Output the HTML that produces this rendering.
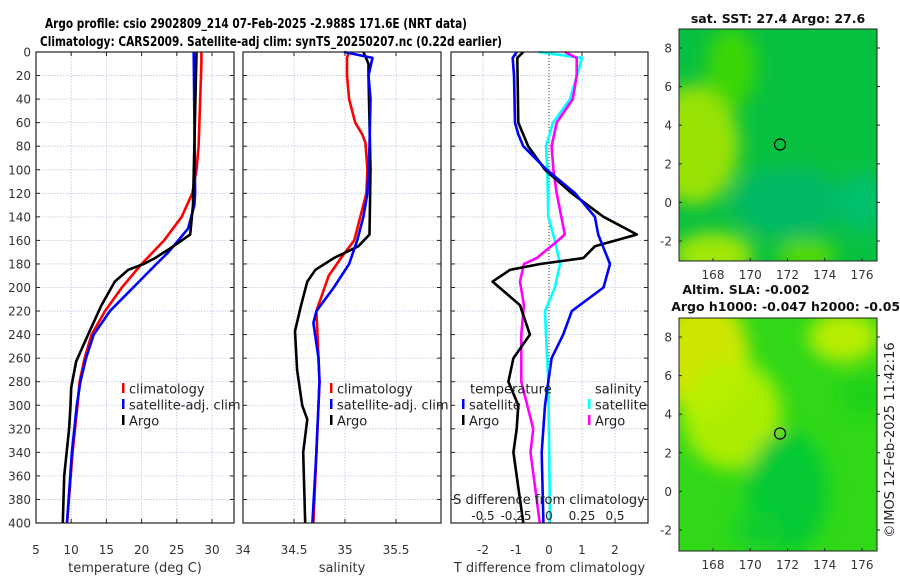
<!DOCTYPE html>
<html><head><meta charset="utf-8"><style>
body{margin:0;background:#fff}
svg{display:block;font-family:"DejaVu Sans","Liberation Sans",sans-serif}
</style></head><body>
<svg id="fig" width="900" height="580" viewBox="0 0 900 580" xmlns="http://www.w3.org/2000/svg">
<defs>
<filter id="blur6" x="-50%" y="-50%" width="200%" height="200%"><feGaussianBlur stdDeviation="9"/></filter>
<clipPath id="clipMap1"><rect x="679" y="29" width="198" height="232"/></clipPath>
<clipPath id="clipMap2"><rect x="679" y="318" width="198" height="233"/></clipPath>
</defs>
<text x="256" y="28" text-anchor="middle" font-size="13" font-weight="bold" textLength="422" lengthAdjust="spacingAndGlyphs">Argo profile: csio 2902809_214 07-Feb-2025 -2.988S 171.6E (NRT data)</text>
<text x="271" y="46" text-anchor="middle" font-size="13" font-weight="bold" textLength="462" lengthAdjust="spacingAndGlyphs">Climatology: CARS2009. Satellite-adj clim: synTS_20250207.nc (0.22d earlier)</text>
<g id="panels"></g>
<g id="maps"></g>
<text transform="translate(894,440) rotate(-90)" text-anchor="middle" font-size="13" fill="#222">©IMOS 12-Feb-2025 11:42:16</text>
</svg>
<script>
// ---- data ----
const depthTicks = [0,20,40,60,80,100,120,140,160,180,200,220,240,260,280,300,320,340,360,380,400];
const tempTicks = [5,10,15,20,25,30];
const salTicks = [34,34.5,35,35.5];
const tdTicks = [-2,-1,0,1,2];
const sdTicks = [-0.5,-0.25,0,0.25,0.5];
const sdTickLabels = ["-0.5","-0.25","0","0.25","0.5"];

const tClimD = [0,10,80,100,120,140,160,180,200,220,240,260,280,300,340,400];
const tClimV = [28.5,28.5,28.1,27.8,27.2,25.7,23.2,20.0,17.2,14.8,12.9,11.9,11.2,10.9,10.2,9.4];
const tSatD = [0,120,130,150,160,170,180,200,220,240,260,280,300,340,400];
const tSatV = [27.4,27.6,27.5,26.6,25.2,23.8,22.1,18.8,15.5,13.2,12.1,11.3,10.8,10.1,9.4];
const tArgoD = [0,130,155,165,175,180,185,195,215,240,263,285,300,320,360,400];
const tArgoV = [27.8,27.3,26.9,24.5,21.9,20.3,18.1,16.2,14.3,12.4,10.7,10.0,9.9,9.7,9.0,8.8];

const sClimD = [0,5,20,40,60,70,77,100,120,140,160,175,190,210,220,240,280,340,400];
const sClimV = [35.04,35.02,35.02,35.04,35.10,35.17,35.2,35.22,35.21,35.15,35.09,34.96,34.84,34.76,34.72,34.73,34.75,34.72,34.69];
const sSatD = [0,5,20,40,80,120,140,160,180,200,220,230,260,280,340,400];
const sSatV = [34.99,35.27,35.23,35.25,35.24,35.22,35.18,35.12,35.04,34.89,34.72,34.69,34.74,34.75,34.72,34.68];
const sArgoD = [0,10,20,100,155,165,175,185,195,215,237,270,300,312,340,400];
const sArgoV = [35.18,35.23,35.23,35.25,35.24,35.13,34.89,34.71,34.63,34.57,34.51,34.53,34.58,34.63,34.59,34.61];

const dtSatD = [0,5,20,60,70,80,100,120,140,155,180,200,220,240,260,280,300,340,400];
const dtSatV = [-0.98,-1.1,-1.06,-1.03,-0.93,-0.78,-0.07,0.79,1.39,1.49,1.85,1.65,0.69,0.43,0.08,-0.02,-0.12,-0.22,-0.17];
const dtArgoD = [0,5,60,80,100,120,140,155,165,175,180,185,195,215,240,260,280,300,320,340,400];
const dtArgoV = [-0.78,-0.96,-0.93,-0.63,-0.12,0.69,1.65,2.66,1.39,1.04,-0.27,-1.18,-1.71,-0.88,-0.58,-1.08,-1.23,-0.93,-0.98,-1.08,-0.78];
const dsSatD = [0,5,40,60,80,100,140,160,180,200,220,240,280,400];
const dsSatV = [-0.08,0.25,0.16,0.03,-0.023,-0.013,-0.005,0.045,0.083,0.045,-0.03,-0.023,-0.005,0.008];
const dsArgoD = [0,5,20,40,60,80,100,120,155,160,175,180,195,215,240,280,320,340,400];
const dsArgoV = [0.12,0.21,0.21,0.18,0.058,0.02,0.033,0.058,0.12,0.07,-0.093,-0.19,-0.22,-0.19,-0.21,-0.21,-0.12,-0.14,-0.07];

// ---- helpers ----
const NS="http://www.w3.org/2000/svg";
const gP=document.getElementById('panels');
function mk(tag,attrs,parent,text){const e=document.createElementNS(NS,tag);for(const k in attrs)e.setAttribute(k,attrs[k]);if(text!==undefined)e.textContent=text;(parent||gP).appendChild(e);return e;}
const Y0=52,Y1=523;
const yD=d=>Y0+(d/400)*(Y1-Y0);
function lin(d0,d1,r0,r1){return v=>r0+(v-d0)/(d1-d0)*(r1-r0);}

const panels=[
 {name:'temperature-panel',x0:36,x1:234,sx:lin(5,30,36,212),ticks:tempTicks,labels:tempTicks.map(String),xlabel:'temperature (deg C)'},
 {name:'salinity-panel',x0:243,x1:441,sx:lin(34,35,243,345),ticks:salTicks,labels:["34","34.5","35","35.5"],xlabel:'salinity'},
 {name:'difference-panel',x0:451,x1:648,sx:lin(0,1,549,582),ticks:tdTicks,labels:tdTicks.map(String),xlabel:'T difference from climatology'}
];
panels.forEach((p,i)=>{
 const g=mk('g',{});
 
 
 // grid
 depthTicks.forEach(d=>{const l=mk('line',{x1:p.x0,x2:p.x1,y1:yD(d),y2:yD(d),stroke:'#b8c4e0','stroke-width':0.8,'stroke-dasharray':'1.5,1.5'},g);
   
   mk('line',{x1:p.x0,x2:p.x0+4,y1:yD(d),y2:yD(d),stroke:'#222'},g);mk('line',{x1:p.x1-4,x2:p.x1,y1:yD(d),y2:yD(d),stroke:'#222'},g);});
 const gx = i===2? sdTicks.map(s=>p.sx(s*4)) : p.ticks.map(p.sx);
 gx.forEach(x=>{if(x>p.x0+1&&x<p.x1-1){const l=mk('line',{x1:x,x2:x,y1:Y0,y2:Y1,stroke:'#b8c4e0','stroke-width':0.8,'stroke-dasharray':'1.5,1.5'},g);
   }});
 p.ticks.forEach((t,k)=>{const x=p.sx(t);
   mk('line',{x1:x,x2:x,y1:Y1,y2:Y1-4,stroke:'#222'},g);mk('line',{x1:x,x2:x,y1:Y0,y2:Y0+4,stroke:'#222'},g);
   const tl=mk('text',{x:x,y:554,'text-anchor':'middle','font-size':12,fill:'#333'},g,p.labels[k]);
   });
 const xl=mk('text',{x:(p.x0+p.x1)/2,y:572,'text-anchor':'middle','font-size':13,fill:'#333'},g,p.xlabel);
 
 if(i===0){depthTicks.forEach(d=>{const t=mk('text',{x:31,y:yD(d)+4.5,'text-anchor':'end','font-size':12,fill:'#333'},g,String(d));
   });}
 p.g=g;
});
// box frames (after grids)
function frame(p){const r=mk('rect',{x:p.x0,y:Y0,width:p.x1-p.x0,height:Y1-Y0,fill:'none',stroke:'#222','stroke-width':1.2},p.g);}
// zero line on diff panel
const zl=mk('line',{x1:panels[2].sx(0),x2:panels[2].sx(0),y1:Y0,y2:Y1,stroke:'#333','stroke-width':1,'stroke-dasharray':'1,2'},panels[2].g);


function series(p,D,V,color,name,scale){
 const pts=D.map((d,k)=>p.sx(V[k]*(scale||1)).toFixed(1)+','+yD(d).toFixed(1)).join(' ');
 const pl=mk('polyline',{points:pts,fill:'none',stroke:color,'stroke-width':2.6,'stroke-linejoin':'round'},p.g);
 
 
}
series(panels[0],tClimD,tClimV,'#f00','temp-climatology-line');
series(panels[0],tSatD,tSatV,'#00f','temp-satellite-line');
series(panels[0],tArgoD,tArgoV,'#000','temp-argo-line');
series(panels[1],sClimD,sClimV,'#f00','sal-climatology-line');
series(panels[1],sArgoD,sArgoV,'#000','sal-argo-line');
series(panels[1],sSatD,sSatV,'#00f','sal-satellite-line');
series(panels[2],dsSatD,dsSatV,'#0ff','sdiff-satellite-line',4);
series(panels[2],dsArgoD,dsArgoV,'#f0f','sdiff-argo-line',4);
series(panels[2],dtArgoD,dtArgoV,'#000','tdiff-argo-line');
series(panels[2],dtSatD,dtSatV,'#00f','tdiff-satellite-line');
panels.forEach(frame);

// S diff axis labels in panel 3
{const g=panels[2].g;
 const t=mk('text',{x:549,y:504,'text-anchor':'middle','font-size':13,fill:'#222'},g,'S difference from climatology');
 
 sdTicks.forEach((s,k)=>{const tl=mk('text',{x:panels[2].sx(s*4),y:520,'text-anchor':'middle','font-size':12,fill:'#222'},g,sdTickLabels[k]);
  });}

// legends
function legend(g,x,y,color,label,name){
 const e=mk('g',{},g);
 mk('rect',{x:x,y:y-6,width:2.5,height:10,fill:color},e);
 mk('text',{x:x+7,y:y+4.5,'font-size':13,fill:'#222'},e,label);
}
[[0,122],[1,330]].forEach(([i,x])=>{
 legend(panels[i].g,x,389,'#f00','climatology','legend-climatology');
 legend(panels[i].g,x,405,'#00f','satellite-adj. clim','legend-satellite-adj');
 legend(panels[i].g,x,421,'#000','Argo','legend-argo');
});
{const g=panels[2].g;
 const h1=mk('text',{x:470,y:393.5,'font-size':13,fill:'#222'},g,'temperature');
 legend(g,462,405,'#00f','satellite','legend-temp-satellite');
 legend(g,462,421,'#000','Argo','legend-temp-argo');
 const h2=mk('text',{x:595,y:393.5,'font-size':13,fill:'#222'},g,'salinity');
 legend(g,588,405,'#0ff','satellite','legend-sal-satellite');
 legend(g,588,421,'#f0f','Argo','legend-sal-argo');
}

// ---- maps ----
const lonTicks=[168,170,172,174,176];
const latTicks=[-2,0,2,4,6,8];
const argoLon=171.6, argoLat=3.0;
const mapBlobs1=[[167,3,45,60,'#a8e600'],[168,-2.7,40,22,'#b4ec00'],[173,-2.7,30,15,'#60dc00'],[172,0,55,35,'#00b868'],[176,0,25,30,'#00c070'],[169,7,25,40,'#40d800']];
const mapBlobs2=[[167.5,7,45,60,'#e0e800'],[175,8,35,25,'#c8f000'],[169,4,50,55,'#b8f000'],[172,0,40,60,'#00c838'],[176,5,20,20,'#18d018'],[170.5,-2,25,20,'#10cc30']];
const gM=document.getElementById('maps');
function drawMap(y0,y1,title,titleY,clip,blobs,base,name){
 const g=mk('g',{},gM);
 const x0=679,x1=877;
 const sx=lin(168,176,713,862), sy=lin(8,-2,y0+19,y0+19+193);
 const c=mk('g',{'clip-path':'url(#'+clip+')'},g);
 mk('rect',{x:x0,y:y0,width:x1-x0,height:y1-y0,fill:base},c);
 const bg=mk('g',{filter:'url(#blur6)'},c);
 blobs.forEach(b=>mk('ellipse',{cx:sx(b[0]),cy:sy(b[1]),rx:b[2],ry:b[3],fill:b[4],opacity:0.9},bg));
 const circ=mk('circle',{cx:sx(argoLon),cy:sy(argoLat),r:5.5,fill:'none',stroke:'#000','stroke-width':1.2},g);
 
 mk('rect',{x:x0,y:y0,width:x1-x0,height:y1-y0,fill:'none',stroke:'#222','stroke-width':1},g);
 lonTicks.forEach(l=>{mk('line',{x1:sx(l),x2:sx(l),y1:y1,y2:y1-3,stroke:'#222'},g);
  const t=mk('text',{x:sx(l),y:y1+18,'text-anchor':'middle','font-size':12,fill:'#333'},g,String(l));});
 latTicks.forEach(l=>{mk('line',{x1:x0,x2:x0+3,y1:sy(l),y2:sy(l),stroke:'#222'},g);mk('line',{x1:x1,x2:x1+3,y1:sy(l),y2:sy(l),stroke:'#222'},g);
  const t=mk('text',{x:x0-7,y:sy(l)+4.5,'text-anchor':'end','font-size':12,fill:'#333'},g,String(l));});
 title.forEach((tt,k)=>{const t=mk('text',{x:tt[1],y:titleY+k*17,'text-anchor':'middle','font-size':12.5,'font-weight':'bold',fill:'#111'},g,tt[0]);});
}
drawMap(29,261,[['sat. SST: 27.4 Argo: 27.6',778]],23,'clipMap1',mapBlobs1,'#08c040','sst-map');
drawMap(318,551,[['Altim. SLA: -0.002',746],['Argo h1000: -0.047 h2000: -0.051',790]],294,'clipMap2',mapBlobs2,'#30d818','sla-map');
</script>
</body></html>
